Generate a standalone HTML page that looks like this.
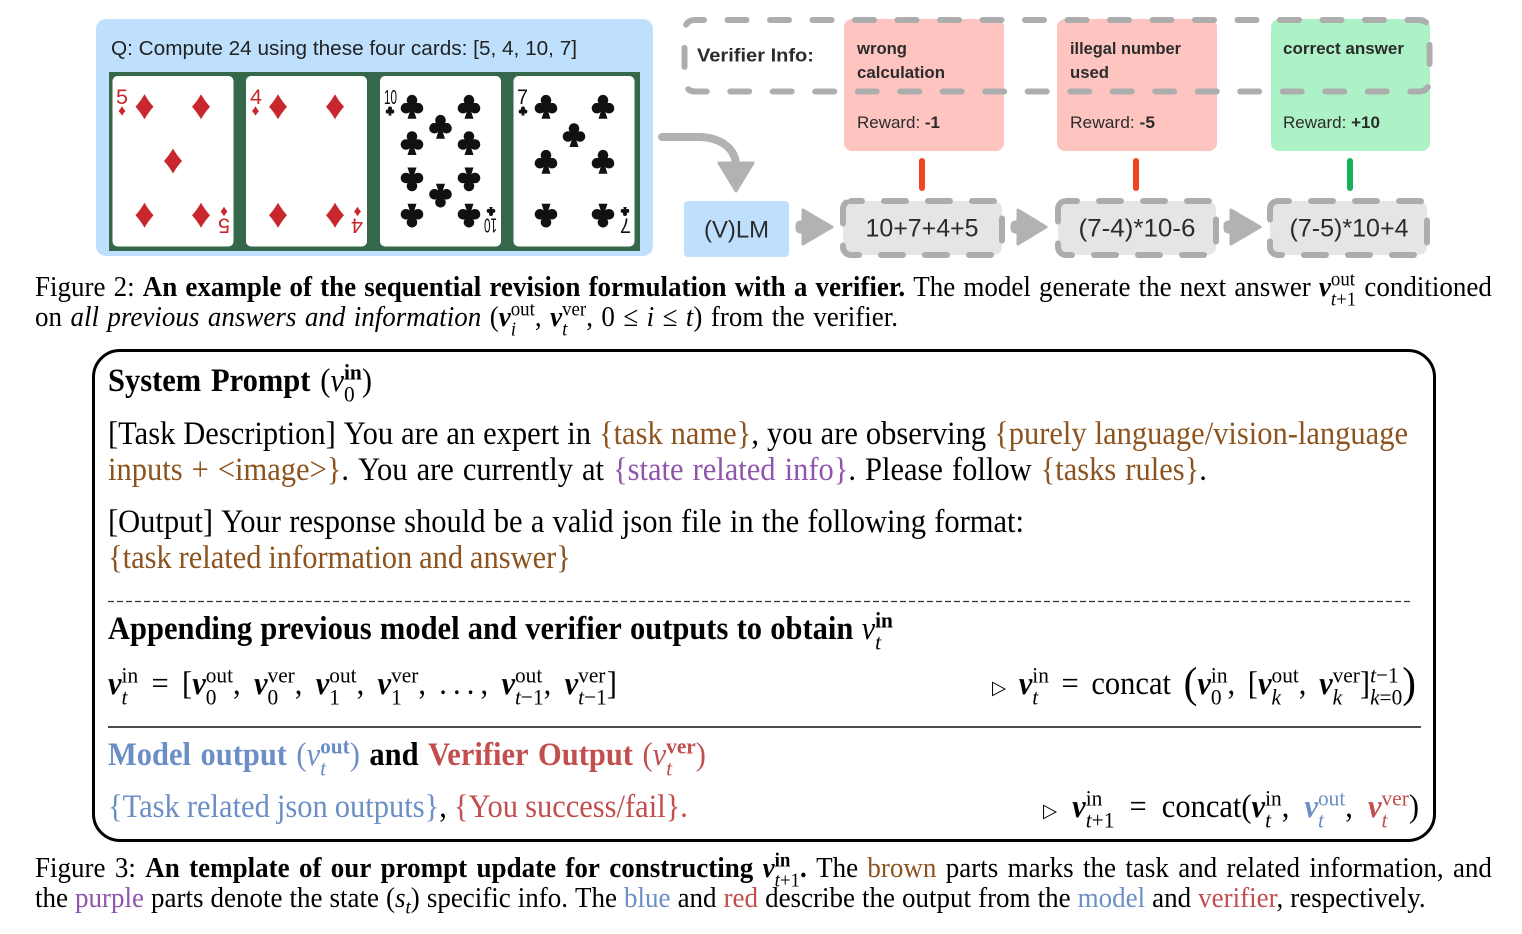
<!DOCTYPE html>
<html><head><meta charset="utf-8">
<style>
html,body{margin:0;padding:0;background:#fff;}
body{width:1522px;height:934px;position:relative;overflow:hidden;font-family:"Liberation Serif","DejaVu Serif",serif;color:#000;}
.ln{position:absolute;display:flex;justify-content:space-between;align-items:baseline;white-space:nowrap;}
.ln>span{display:block;white-space:nowrap;}
.cap{font-size:27px;line-height:30px;transform:scaleY(1.06);transform-origin:0 24px;}
.bx{font-size:30.5px;line-height:36px;transform:scaleY(1.06);transform-origin:0 28px;}
.b{font-weight:bold;}
.i{font-style:italic;}
.m{font-style:italic;}
.v{font-style:italic;font-weight:bold;}
.ss{display:inline-block;line-height:0;font-size:0.7em;vertical-align:baseline;font-weight:normal;font-style:normal;}
.ss>span{display:block;position:relative;white-space:nowrap;}
.ss>.u{top:-0.52em;}
.ss>.d{top:0.45em;}
.ss>.uo{top:-0.6em;}
.ss>.do{top:0.32em;}
.br{color:#8c531f}.pu{color:#8f55ad}.bl{color:#6c8ec6}.rd{color:#c24e4e}
.tri{font-family:"DejaVu Sans",sans-serif;font-size:0.6em;}
.big{font-size:1.35em;line-height:0;position:relative;top:0.07em;}
.box{position:absolute;left:92px;top:349px;width:1344px;height:493px;border:3px solid #000;border-radius:28px;box-sizing:border-box;}
</style>
</head><body>

<svg width="1522" height="262" style="position:absolute;left:0;top:0" font-family="Liberation Sans, Arial, sans-serif">
<defs>
<path id="dm" d="M0,-12.5 Q4,-5.5 9,0 Q4,5.5 0,12.5 Q-4,5.5 -9,0 Q-4,-5.5 0,-12.5Z"/>
<g id="cl"><circle cx="0" cy="-6.5" r="5.3"/><circle cx="-6" cy="1.5" r="5.3"/><circle cx="6" cy="1.5" r="5.3"/><path d="M0,-2 L-4.5,12 L4.5,12Z"/><circle cx="0" cy="-0.5" r="3.2"/></g>
</defs>

<!-- question panel -->
<rect x="96" y="19" width="557" height="237" rx="10" fill="#bee0fd"/>
<text x="111" y="55" font-size="20" fill="#222" textLength="466" lengthAdjust="spacingAndGlyphs">Q: Compute 24 using these four cards: [5, 4, 10, 7]</text>
<rect x="109" y="72" width="531" height="179" fill="#35674a"/>
<rect x="112.5" y="76" width="121" height="170.5" rx="5" fill="#fff"/>
<rect x="246" y="76" width="121" height="170.5" rx="5" fill="#fff"/>
<rect x="380" y="76" width="121" height="170.5" rx="5" fill="#fff"/>
<rect x="513.5" y="76" width="121" height="170.5" rx="5" fill="#fff"/>

<!-- card 5 diamonds -->
<g fill="#c8272e">
<use href="#dm" transform="translate(144.5,106.7)"/><use href="#dm" transform="translate(201,106.7)"/>
<use href="#dm" transform="translate(173,161)"/>
<use href="#dm" transform="translate(144.5,215.3)"/><use href="#dm" transform="translate(201,215.3)"/>
<g><text x="116" y="104" font-size="21" textLength="12" lengthAdjust="spacingAndGlyphs">5</text><use href="#dm" transform="translate(122,111) scale(0.38)"/></g>
<g transform="rotate(180 173 161.25)"><text x="116" y="104" font-size="21" textLength="12" lengthAdjust="spacingAndGlyphs">5</text><use href="#dm" transform="translate(122,111) scale(0.38)"/></g>
</g>
<!-- card 4 diamonds -->
<g fill="#c8272e">
<use href="#dm" transform="translate(278,106.7)"/><use href="#dm" transform="translate(335,106.7)"/>
<use href="#dm" transform="translate(278,215.3)"/><use href="#dm" transform="translate(335,215.3)"/>
<g><text x="250" y="104" font-size="21" textLength="12" lengthAdjust="spacingAndGlyphs">4</text><use href="#dm" transform="translate(255.5,111) scale(0.38)"/></g>
<g transform="rotate(180 306.5 161.25)"><text x="250" y="104" font-size="21" textLength="12" lengthAdjust="spacingAndGlyphs">4</text><use href="#dm" transform="translate(255.5,111) scale(0.38)"/></g>
</g>
<!-- card 10 clubs -->
<g fill="#111">
<use href="#cl" transform="translate(412,106.7)"/><use href="#cl" transform="translate(469,106.7)"/>
<use href="#cl" transform="translate(440.5,126.7)"/>
<use href="#cl" transform="translate(412,143)"/><use href="#cl" transform="translate(469,143)"/>
<use href="#cl" transform="translate(412,179.5) rotate(180)"/><use href="#cl" transform="translate(469,179.5) rotate(180)"/>
<use href="#cl" transform="translate(440.5,195.8) rotate(180)"/>
<use href="#cl" transform="translate(412,215.8) rotate(180)"/><use href="#cl" transform="translate(469,215.8) rotate(180)"/>
<g><text x="384" y="104" font-size="20" textLength="13" lengthAdjust="spacingAndGlyphs">10</text><use href="#cl" transform="translate(390,111) scale(0.38)"/></g>
<g transform="rotate(180 440.5 161.25)"><text x="384" y="104" font-size="20" textLength="13" lengthAdjust="spacingAndGlyphs">10</text><use href="#cl" transform="translate(390,111) scale(0.38)"/></g>
</g>
<!-- card 7 clubs -->
<g fill="#111">
<use href="#cl" transform="translate(546,106.7)"/><use href="#cl" transform="translate(603,106.7)"/>
<use href="#cl" transform="translate(574,135)"/>
<use href="#cl" transform="translate(546,161.7)"/><use href="#cl" transform="translate(603,161.7)"/>
<use href="#cl" transform="translate(546,215.8) rotate(180)"/><use href="#cl" transform="translate(603,215.8) rotate(180)"/>
<g><text x="517" y="104" font-size="21" textLength="11" lengthAdjust="spacingAndGlyphs">7</text><use href="#cl" transform="translate(523,111) scale(0.38)"/></g>
<g transform="rotate(180 574 161.25)"><text x="517" y="104" font-size="21" textLength="11" lengthAdjust="spacingAndGlyphs">7</text><use href="#cl" transform="translate(523,111) scale(0.38)"/></g>
</g>

<!-- verifier boxes -->
<rect x="844" y="19" width="160" height="132" rx="8" fill="#fec5c0"/>
<rect x="1057" y="19" width="160" height="132" rx="8" fill="#fec5c0"/>
<rect x="1271" y="19" width="159" height="132" rx="8" fill="#adf2c7"/>
<g fill="#2b2b2b" font-size="16.5">
<text x="857" y="54" font-weight="bold" textLength="50" lengthAdjust="spacingAndGlyphs">wrong</text>
<text x="857" y="78" font-weight="bold" textLength="88" lengthAdjust="spacingAndGlyphs">calculation</text>
<text x="857" y="128" textLength="83" lengthAdjust="spacingAndGlyphs">Reward: <tspan font-weight="bold">-1</tspan></text>
<text x="1070" y="54" font-weight="bold" textLength="111" lengthAdjust="spacingAndGlyphs">illegal number</text>
<text x="1070" y="78" font-weight="bold" textLength="39" lengthAdjust="spacingAndGlyphs">used</text>
<text x="1070" y="128" textLength="85" lengthAdjust="spacingAndGlyphs">Reward: <tspan font-weight="bold">-5</tspan></text>
<text x="1283" y="54" font-weight="bold" textLength="121" lengthAdjust="spacingAndGlyphs">correct answer</text>
<text x="1283" y="128" textLength="97" lengthAdjust="spacingAndGlyphs">Reward: <tspan font-weight="bold">+10</tspan></text>
</g>
<rect x="684.5" y="20" width="745" height="71.5" rx="10" fill="none" stroke="#adadad" stroke-width="6" stroke-dasharray="19 23.5" stroke-dashoffset="9.5" stroke-linecap="round"/>
<text x="697" y="61.5" font-size="18.5" font-weight="bold" fill="#2b2b2b" textLength="117" lengthAdjust="spacingAndGlyphs">Verifier Info:</text>

<!-- connectors -->
<line x1="922" y1="161" x2="922" y2="188" stroke="#f0461f" stroke-width="6" stroke-linecap="round"/>
<line x1="1136" y1="161" x2="1136" y2="188" stroke="#f0461f" stroke-width="6" stroke-linecap="round"/>
<line x1="1350" y1="161" x2="1350" y2="188" stroke="#16b25a" stroke-width="6" stroke-linecap="round"/>

<!-- curved arrow -->
<path d="M662,137 L698,137 C721,137 736,149 736,166" fill="none" stroke="#b2b2b2" stroke-width="8" stroke-linecap="round"/>
<polygon points="719,163 753,163 736,191" fill="#b2b2b2" stroke="#b2b2b2" stroke-width="3" stroke-linejoin="round"/>

<!-- VLM -->
<rect x="684" y="201" width="105" height="56" rx="4" fill="#bee0fd"/>
<text x="736.5" y="237.5" font-size="24" fill="#2b2b2b" text-anchor="middle" textLength="65" lengthAdjust="spacingAndGlyphs">(V)LM</text>

<!-- answer boxes -->
<g fill="#e5e5e5" stroke="#adadad" stroke-width="6" stroke-dasharray="22 22" stroke-dashoffset="11" stroke-linecap="round">
<rect x="843" y="201" width="159" height="54" rx="8"/>
<rect x="1058" y="201" width="158" height="54" rx="8"/>
<rect x="1270" y="201" width="157" height="54" rx="8"/>
</g>
<g font-size="25" fill="#2b2b2b" text-anchor="middle">
<text x="922" y="236.5" textLength="113" lengthAdjust="spacingAndGlyphs">10+7+4+5</text>
<text x="1137" y="236.5" textLength="117" lengthAdjust="spacingAndGlyphs">(7-4)*10-6</text>
<text x="1349" y="236.5" textLength="119" lengthAdjust="spacingAndGlyphs">(7-5)*10+4</text>
</g>

<!-- arrows -->
<g fill="#b2b2b2" stroke="#b2b2b2" stroke-width="3" stroke-linejoin="round">
<rect x="797" y="222" width="8" height="10" rx="3"/>
<polygon points="803,210 832,227 803,244"/>
<rect x="1012" y="222" width="8" height="10" rx="3"/>
<polygon points="1018,210 1046,227 1018,244"/>
<rect x="1225" y="222" width="8" height="10" rx="3"/>
<polygon points="1231,210 1260,227 1231,244"/>
</g>
</svg>

<!-- Figure 2 caption -->
<div class="ln cap" style="left:35px;top:272px;width:1457px">
<span>Figure</span><span>2:</span><span class="b">An</span><span class="b">example</span><span class="b">of</span><span class="b">the</span><span class="b">sequential</span><span class="b">revision</span><span class="b">formulation</span><span class="b">with</span><span class="b">a</span><span class="b">verifier.</span><span>The</span><span>model</span><span>generate</span><span>the</span><span>next</span><span>answer</span><span><span class="v">v</span><span class="ss"><span class="u">out</span><span class="d"><i>t</i>+1</span></span></span><span>conditioned</span>
</div>
<div class="ln cap" style="left:35px;top:302px;width:863px">
<span>on</span><span class="i">all</span><span class="i">previous</span><span class="i">answers</span><span class="i">and</span><span class="i">information</span><span>(<span class="v">v</span><span class="ss"><span class="u">out</span><span class="d"><i>i</i></span></span>,</span><span><span class="v">v</span><span class="ss"><span class="u">ver</span><span class="d"><i>t</i></span></span>,</span><span>0</span><span>≤</span><span class="m">i</span><span>≤</span><span><i>t</i>)</span><span>from</span><span>the</span><span>verifier.</span>
</div>

<!-- Prompt box -->
<div class="box"></div>

<div class="ln bx" style="left:108px;top:363px;width:264px">
<span class="b">System</span><span class="b">Prompt</span><span>(<i>v</i><span class="ss"><span class="u b">in</span><span class="d">0</span></span>)</span>
</div>

<div class="ln bx" style="left:108px;top:416px;width:1300px">
<span>[Task</span><span>Description]</span><span>You</span><span>are</span><span>an</span><span>expert</span><span>in</span><span class="br">{task</span><span><span class="br">name}</span>,</span><span>you</span><span>are</span><span>observing</span><span class="br">{purely</span><span class="br">language/vision-language</span>
</div>

<div class="ln bx" style="left:108px;top:452px;width:1099px">
<span class="br">inputs</span><span class="br">+</span><span><span class="br">&lt;image&gt;}</span>.</span><span>You</span><span>are</span><span>currently</span><span>at</span><span class="pu">{state</span><span class="pu">related</span><span><span class="pu">info}</span>.</span><span>Please</span><span>follow</span><span class="br">{tasks</span><span><span class="br">rules}</span>.</span>
</div>

<div class="ln bx" style="left:108px;top:504px;width:916px">
<span>[Output]</span><span>Your</span><span>response</span><span>should</span><span>be</span><span>a</span><span>valid</span><span>json</span><span>file</span><span>in</span><span>the</span><span>following</span><span>format:</span>
</div>

<div class="ln bx br" style="left:108px;top:540px;width:463px">
<span>{task</span><span>related</span><span>information</span><span>and</span><span>answer}</span>
</div>

<svg width="1522" height="10" style="position:absolute;left:0;top:596px">
<line x1="108" y1="5.5" x2="1413" y2="5.5" stroke="#333" stroke-width="1.3" stroke-dasharray="6 3"/>
</svg>

<div class="ln bx b" style="left:108px;top:611px;width:785px">
<span>Appending</span><span>previous</span><span>model</span><span>and</span><span>verifier</span><span>outputs</span><span>to</span><span>obtain</span><span style="font-weight:normal"><i>v</i><span class="ss"><span class="u b">in</span><span class="d"><i>t</i></span></span></span>
</div>

<div class="ln bx" style="left:108px;top:666px;width:509px">
<span><span class="v">v</span><span class="ss"><span class="u">in</span><span class="d"><i>t</i></span></span></span><span>=</span><span>[<span class="v">v</span><span class="ss"><span class="u">out</span><span class="d">0</span></span>,</span><span><span class="v">v</span><span class="ss"><span class="u">ver</span><span class="d">0</span></span>,</span><span><span class="v">v</span><span class="ss"><span class="u">out</span><span class="d">1</span></span>,</span><span><span class="v">v</span><span class="ss"><span class="u">ver</span><span class="d">1</span></span>,</span><span>.&#8201;.&#8201;.&#8201;,</span><span><span class="v">v</span><span class="ss"><span class="u">out</span><span class="d"><i>t</i>−1</span></span>,</span><span><span class="v">v</span><span class="ss"><span class="u">ver</span><span class="d"><i>t</i>−1</span></span>]</span>
</div>

<div class="ln bx" style="left:992px;top:666px;width:424px">
<span class="tri">▷</span><span><span class="v">v</span><span class="ss"><span class="u">in</span><span class="d"><i>t</i></span></span></span><span>=</span><span>concat</span><span><span class="big">(</span><span class="v">v</span><span class="ss"><span class="u">in</span><span class="d">0</span></span>,</span><span>[<span class="v">v</span><span class="ss"><span class="u">out</span><span class="d"><i>k</i></span></span>,</span><span><span class="v">v</span><span class="ss"><span class="u">ver</span><span class="d"><i>k</i></span></span>]<span class="ss"><span class="u"><i>t</i>−1</span><span class="d"><i>k</i>=0</span></span><span class="big">)</span></span>
</div>

<svg width="1522" height="6" style="position:absolute;left:0;top:724px">
<line x1="108" y1="3" x2="1421" y2="3" stroke="#111" stroke-width="1.6"/>
</svg>

<div class="ln bx" style="left:108px;top:737px;width:598px">
<span class="b bl">Model</span><span class="b bl">output</span><span class="bl">(<i>v</i><span class="ss"><span class="u b">out</span><span class="d"><i>t</i></span></span>)</span><span class="b">and</span><span class="b rd">Verifier</span><span class="b rd">Output</span><span class="rd">(<i>v</i><span class="ss"><span class="u b">ver</span><span class="d"><i>t</i></span></span>)</span>
</div>

<div class="ln bx" style="left:108px;top:789px;width:580px">
<span class="bl">{Task</span><span class="bl">related</span><span class="bl">json</span><span><span class="bl">outputs}</span>,</span><span class="rd">{You</span><span class="rd">success/fail}.</span>
</div>

<div class="ln bx" style="left:1043px;top:789px;width:376px">
<span class="tri">▷</span><span><span class="v">v</span><span class="ss"><span class="u">in</span><span class="d"><i>t</i>+1</span></span></span><span>=</span><span>concat(<span class="v">v</span><span class="ss"><span class="u">in</span><span class="d"><i>t</i></span></span>,</span><span><span class="bl"><span class="v">v</span><span class="ss"><span class="u">out</span><span class="d"><i>t</i></span></span></span>,</span><span><span class="rd"><span class="v">v</span><span class="ss"><span class="u">ver</span><span class="d"><i>t</i></span></span></span>)</span>
</div>

<!-- Figure 3 caption -->
<div class="ln cap" style="left:35px;top:853px;width:1457px">
<span>Figure</span><span>3:</span><span class="b">An</span><span class="b">template</span><span class="b">of</span><span class="b">our</span><span class="b">prompt</span><span class="b">update</span><span class="b">for</span><span class="b">constructing</span><span class="b"><span class="v">v</span><span class="ss"><span class="u b">in</span><span class="d"><i>t</i>+1</span></span>.</span><span>The</span><span class="br">brown</span><span>parts</span><span>marks</span><span>the</span><span>task</span><span>and</span><span>related</span><span>information,</span><span>and</span>
</div>
<div class="ln cap" style="left:35px;top:883px;width:1391px">
<span>the</span><span class="pu">purple</span><span>parts</span><span>denote</span><span>the</span><span>state</span><span>(<i>s</i><span class="ss"><span class="do"><i>t</i></span></span>)</span><span>specific</span><span>info.</span><span>The</span><span class="bl">blue</span><span>and</span><span class="rd">red</span><span>describe</span><span>the</span><span>output</span><span>from</span><span>the</span><span class="bl">model</span><span>and</span><span><span class="rd">verifier</span>,</span><span>respectively.</span>
</div>

</body></html>
